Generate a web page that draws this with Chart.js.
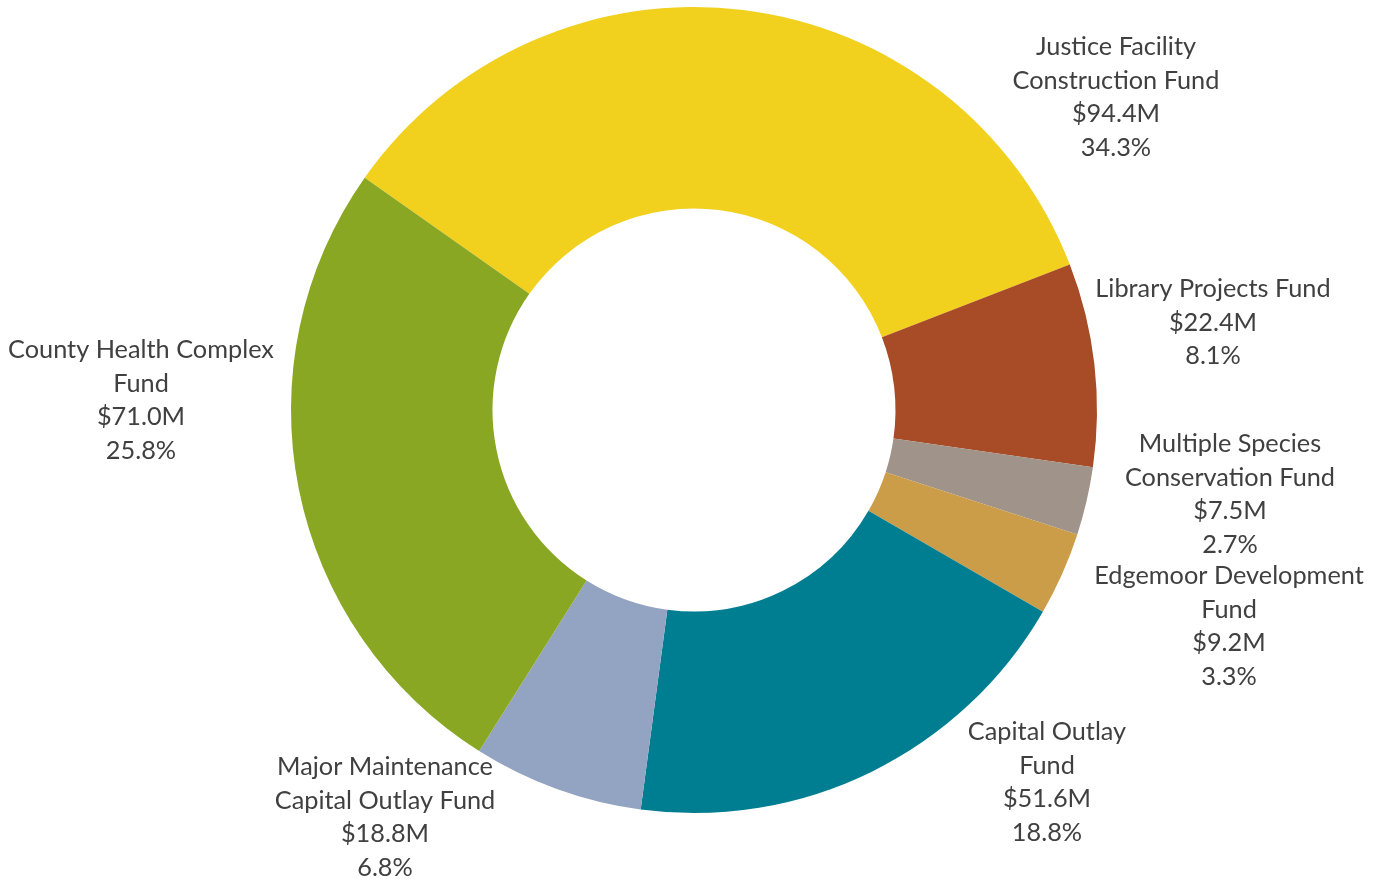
<!DOCTYPE html>
<html>
<head>
<meta charset="utf-8">
<title>Capital Funds</title>
<script src="https://cdn.jsdelivr.net/npm/chart.js@4"></script>
<style>
  html, body { margin: 0; padding: 0; background: #fff; }
  #wrap { position: relative; width: 1383px; height: 882px; }
</style>
</head>
<body>
<div id="wrap"><canvas id="chart"></canvas></div>
<script>
/* Capital fund balances, doughnut with outside labels */

const FUNDS = [
  ['Justice Facility', 'Construction Fund'],
  ['Library Projects Fund'],
  ['Multiple Species', 'Conservation Fund'],
  ['Edgemoor Development', 'Fund'],
  ['Capital Outlay', 'Fund'],
  ['Major Maintenance', 'Capital Outlay Fund'],
  ['County Health Complex', 'Fund'],
];
const AMOUNTS = [94.4, 22.4, 7.5, 9.2, 51.6, 18.8, 71.0];   // $M
const SHARES = [34.3, 8.1, 2.7, 3.3, 18.8, 6.8, 25.8];     // %
const COLORS = ['#F2D01E', '#A84B27', '#A09389', '#CC9D48', '#007E91', '#93A3C2', '#8AA723'];

// label block anchors, offset from doughnut centre (first line)
const LABEL_POS = [[422, -363], [519, -121], [536, 34], [535, 166], [353, 322], [-309, 357], [-553, -60]];
const LINE_H = 33.5;

const outsideLabels = {
  id: 'outsideLabels',
  afterDatasetsDraw(chart) {
    const arc = chart.getDatasetMeta(0).data[0];
    const { ctx } = chart;
    ctx.save();
    ctx.font = '25.3px Lato';
    ctx.fillStyle = '#404040';
    ctx.textAlign = 'center';
    ctx.textBaseline = 'middle';
    FUNDS.forEach((name, i) => {
      const lines = [...name, '$' + AMOUNTS[i].toFixed(1) + 'M', SHARES[i].toFixed(1) + '%'];
      const [dx, dy] = LABEL_POS[i];
      lines.forEach((t, j) => ctx.fillText(t, arc.x + dx, arc.y + dy + j * LINE_H));
    });
    ctx.restore();
  }
};

new Chart(document.getElementById('chart'), {
  type: 'doughnut',
  data: {
    labels: FUNDS.map(f => f.join(' ')),
    datasets: [{ data: AMOUNTS, backgroundColor: COLORS, borderWidth: 0 }],
  },
  options: {
    responsive: true,
    maintainAspectRatio: false,
    animation: false,
    rotation: -54.8,
    cutout: '50%',
    layout: { padding: { left: 291, right: 286, top: 7, bottom: 69 } },
    plugins: { legend: { display: false }, tooltip: { enabled: false } },
  },
  plugins: [outsideLabels],
});
</script>
</body>
</html>
